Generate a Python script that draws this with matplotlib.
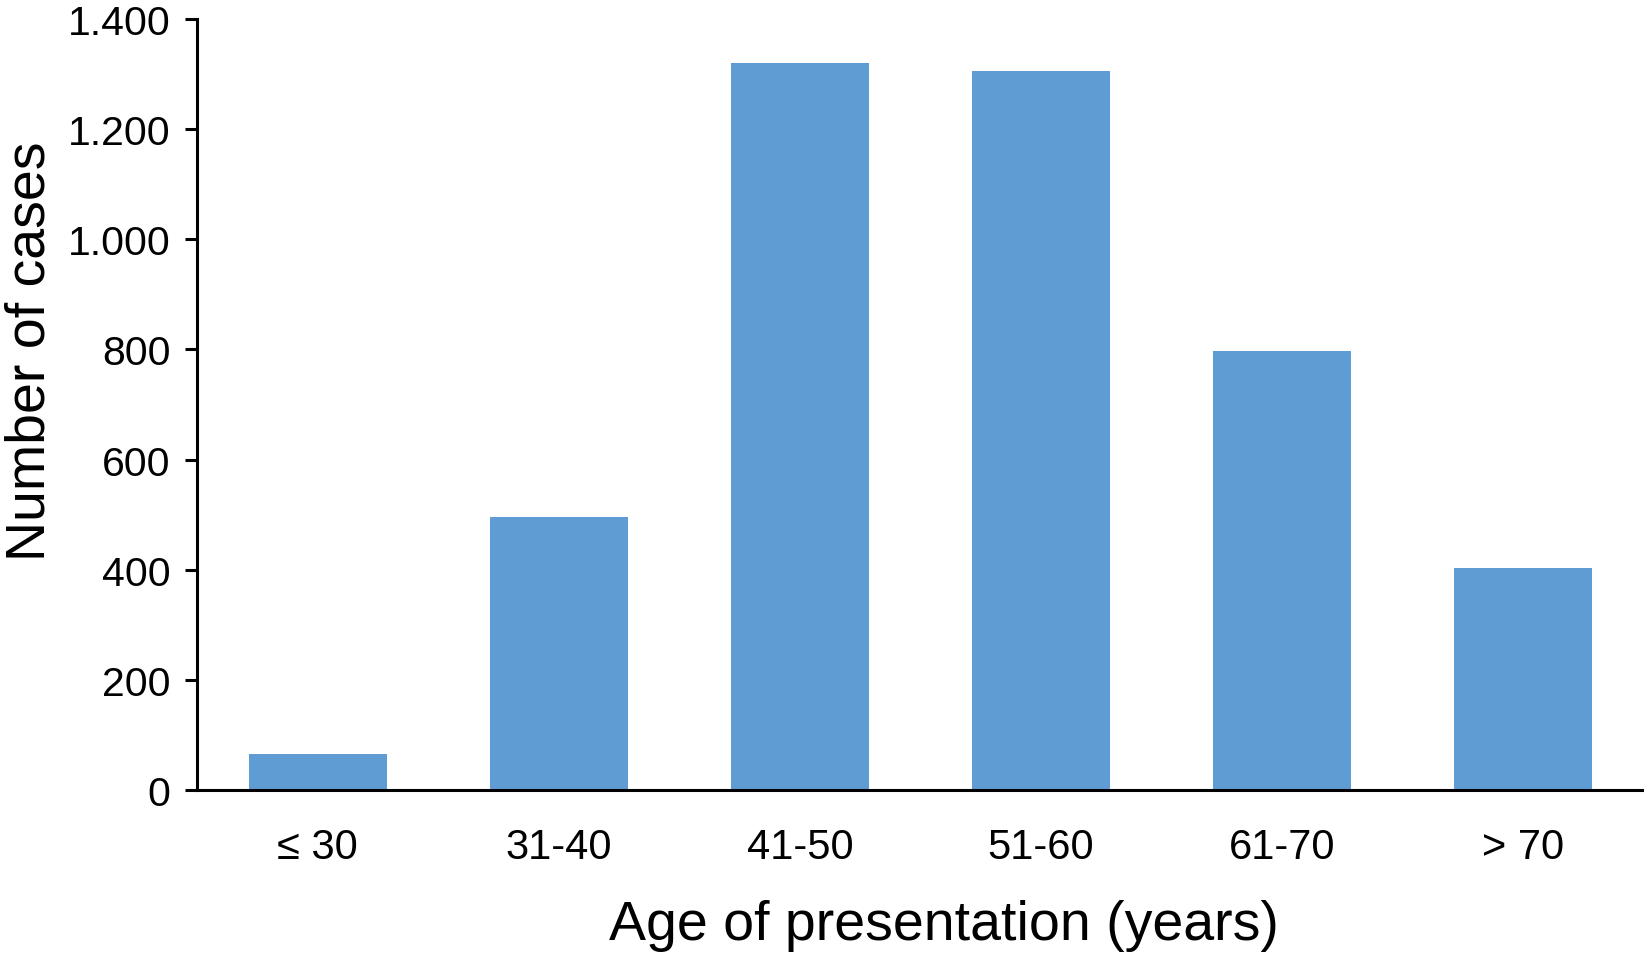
import matplotlib.pyplot as plt
from matplotlib.ticker import FuncFormatter

categories = ['\u2264 30', '31-40', '41-50', '51-60', '61-70', '> 70']
cases = [65, 495, 1320, 1305, 797, 403]
yticks = [0, 200, 400, 600, 800, 1000, 1200, 1400]

plt.rcParams['font.family'] = ['Liberation Sans', 'DejaVu Sans']

fig = plt.figure(figsize=(16.44, 9.54), dpi=100)
ax = fig.add_axes([0.1198, 0.1709, 0.8802, 0.8081])

x = range(len(categories))
ax.bar(x, cases, width=0.572, color='#5f9cd3')

ax.set_xlim(-0.5, 5.5)
ax.set_ylim(0, 1400)
ax.set_yticks(yticks)
# thousands separator shown as a dot in the original
ax.yaxis.set_major_formatter(FuncFormatter(lambda v, p: f'{int(v):,}'.replace(',', '.')))
ax.set_xticks(list(x))
ax.set_xticklabels(categories)

for s in ['top', 'right']:
    ax.spines[s].set_visible(False)
for s in ['left', 'bottom']:
    ax.spines[s].set_linewidth(2.2)

ax.tick_params(axis='y', length=9, width=2.2, labelsize=29.5, pad=10)
ax.tick_params(axis='x', length=0, labelsize=30, pad=27)

ax.set_ylabel('Number of cases', fontsize=40)
ax.set_xlabel('Age of presentation (years)', fontsize=40)
ax.yaxis.set_label_coords(-0.097, 0.571)
ax.xaxis.set_label_coords(0.516, -0.142)

fig.savefig('out.png', dpi=100)
